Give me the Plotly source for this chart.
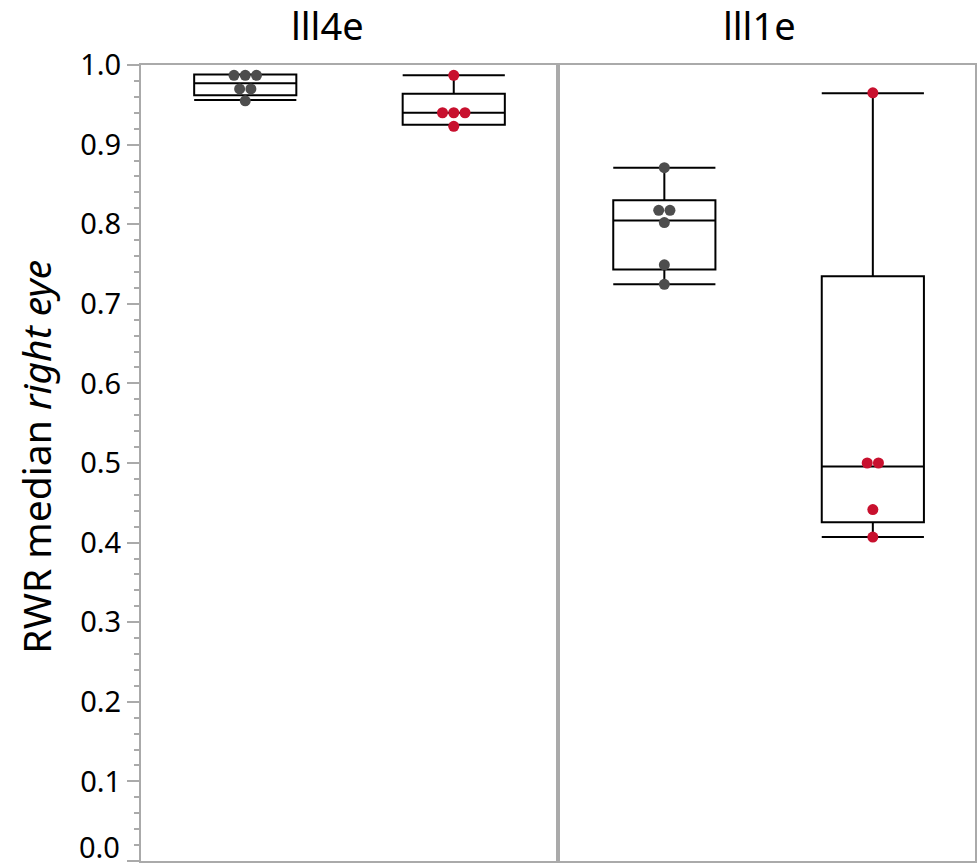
import plotly.graph_objects as go
from collections import Counter

# ---- data ----
panels = ["lll4e", "lll1e"]
groups = ["A", "B"]
colors = {"A": "#4d4d4d", "B": "#c8102e"}

points = {
    ("lll4e", "A"): [0.987, 0.987, 0.987, 0.970, 0.970, 0.955],
    ("lll4e", "B"): [0.987, 0.940, 0.940, 0.940, 0.923],
    ("lll1e", "A"): [0.871, 0.8175, 0.8175, 0.802, 0.749, 0.7245],
    ("lll1e", "B"): [0.965, 0.500, 0.500, 0.4415, 0.407],
}
# box statistics: lowerfence, q1, median, q3, upperfence
stats = {
    ("lll4e", "A"): [0.956, 0.962, 0.977, 0.988, 0.988],
    ("lll4e", "B"): [0.925, 0.925, 0.940, 0.964, 0.987],
    ("lll1e", "A"): [0.7245, 0.743, 0.8045, 0.830, 0.871],
    ("lll1e", "B"): [0.407, 0.4255, 0.4955, 0.7345, 0.9645],
}
y_ticks = [round(0.1 * i, 1) for i in range(11)]
y_ticklabels = [f"{v:.1f}" for v in y_ticks]

FONT = "Noto Sans"
GRAY = "#aaaaaa"
DOT_STEP = 0.054  # horizontal spacing of tied dots (x units)

fig = go.Figure()
for pi, panel in enumerate(panels):
    xa = "x" if pi == 0 else "x2"
    ya = "y" if pi == 0 else "y2"
    for gi, g in enumerate(groups):
        pos = gi + 0.5
        lf, q1, med, q3, uf = stats[(panel, g)]
        fig.add_trace(go.Box(
            x=[pos], q1=[q1], median=[med], q3=[q3], lowerfence=[lf], upperfence=[uf],
            orientation="v", width=0.49, whiskerwidth=1, boxpoints=False,
            fillcolor="rgba(0,0,0,0)", line=dict(color="black", width=2),
            xaxis=xa, yaxis=ya, showlegend=False, hoverinfo="skip"))
        vals = points[(panel, g)]
        cnt = Counter(vals)
        seen = Counter()
        xs = []
        for v in vals:
            n = cnt[v]
            i = seen[v]
            seen[v] += 1
            xs.append(pos + (i - (n - 1) / 2) * DOT_STEP)
        fig.add_trace(go.Scatter(
            x=xs, y=vals, mode="markers",
            marker=dict(color=colors[g], size=11, line=dict(width=0)),
            xaxis=xa, yaxis=ya, showlegend=False, hoverinfo="skip"))

axis_common = dict(showgrid=False, zeroline=False, showticklabels=False, automargin=False,
                   ticks="", showline=True, linecolor=GRAY, linewidth=2, mirror=True, fixedrange=True)
# tick labels: the lowest one is nudged up inside the figure (as in the reference)
tick_text_axis = [t if v > 0 else "" for v, t in zip(y_ticks, y_ticklabels)]

fig.update_layout(
    width=977, height=867,
    margin=dict(l=141, r=2, t=65, b=6),
    paper_bgcolor="white", plot_bgcolor="white",
    font=dict(family=FONT, color="black"),
    xaxis=dict(domain=[0, 0.5], range=[0, 2], **axis_common),
    xaxis2=dict(domain=[0.5, 1], range=[-0.01, 1.99], **axis_common),
    yaxis=dict(range=[0, 1], tickvals=y_ticks, ticktext=tick_text_axis, ticks="outside",
               ticklen=12, tickwidth=2, tickcolor=GRAY, tickfont=dict(size=29, family=FONT),
               automargin=False,
               showline=True, linecolor=GRAY, linewidth=2, mirror=True, showgrid=False, zeroline=False,
               minor=dict(dtick=0.02, ticks="outside", ticklen=5, tickwidth=1.5, tickcolor=GRAY)),
    yaxis2=dict(range=[0, 1], anchor="x2", showticklabels=False, ticks="", showline=True, automargin=False,
                linecolor=GRAY, linewidth=2, mirror=True, showgrid=False, zeroline=False),
    annotations=[
        dict(text="lll4e", x=0.2242, y=1.0, xref="paper", yref="paper", yshift=40,
             xanchor="center", yanchor="middle", showarrow=False, font=dict(size=38, family=FONT)),
        dict(text="lll1e", x=0.7416, y=1.0, xref="paper", yref="paper", yshift=40,
             xanchor="center", yanchor="middle", showarrow=False, font=dict(size=38, family=FONT)),
        dict(text="RWR median <i>right eye</i>", x=-0.1259, y=0.508, xref="paper", yref="paper",
             xanchor="center", yanchor="middle", textangle=-90, showarrow=False,
             font=dict(size=39, family=FONT)),
        dict(text=y_ticklabels[0], x=0, y=y_ticks[0], xref="paper", yref="y", xshift=-19,
             xanchor="right", yanchor="bottom", yshift=-7, showarrow=False,
             font=dict(size=29, family=FONT)),
    ],
)
fig.write_html("out.html")
